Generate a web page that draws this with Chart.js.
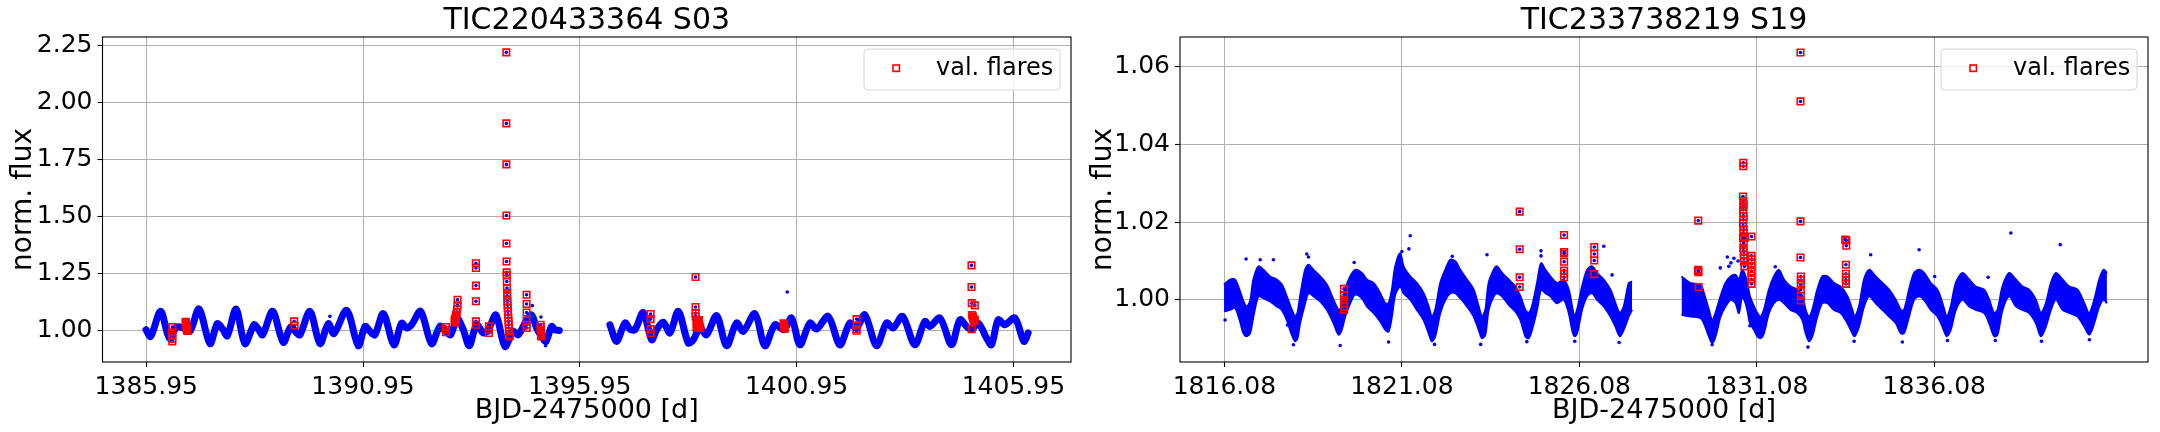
<!DOCTYPE html>
<html>
<head>
<meta charset="utf-8">
<script src="https://cdn.jsdelivr.net/npm/chart.js@4.4.1/dist/chart.umd.min.js"></script>
<style>
    body { margin: 0; background: #fff; width: 2160px; height: 432px; overflow: hidden; }
    .panel { position: absolute; top: 0; width: 1080px; height: 432px; }
</style>
</head>
<body>
<div class="panel" style="left:0"><canvas id="s03" width="1080" height="432"></canvas></div>
<div class="panel" style="left:1080px"><canvas id="s19" width="1080" height="432"></canvas></div>
<script>
// ---- TIC220433364, sector 3 ----
const s03XTicks = [1385.95, 1390.95, 1395.95, 1400.95, 1405.95];
const s03YTicks = [1.00, 1.25, 1.50, 1.75, 2.00, 2.25];

// light curve, first orbit (read along the middle of the band)
const s03TimeA = [1385.943, 1386.051, 1386.281, 1386.481, 1386.650, 1386.804, 1386.958, 1387.165, 1387.419, 1387.588,
    1387.711, 1387.819, 1388.019, 1388.226, 1388.434, 1388.534, 1388.634, 1388.864, 1389.110, 1389.279,
    1389.418, 1389.495, 1389.725, 1389.956, 1390.148, 1390.279, 1390.571, 1390.840, 1390.994, 1391.109,
    1391.224, 1391.417, 1391.663, 1391.839, 1391.955, 1392.070, 1392.278, 1392.531, 1392.723, 1392.862,
    1392.969, 1393.123, 1393.262, 1393.400, 1393.569, 1393.723, 1393.838, 1394.015, 1394.222, 1394.415,
    1394.530, 1394.722, 1394.838, 1394.953, 1395.068, 1395.168, 1395.299, 1395.376, 1395.476];
const s03FluxA = [1.001, 0.972, 1.082, 0.965, 1.013, 1.009, 0.994, 1.092, 0.940, 1.028,
    1.004, 0.975, 1.092, 0.940, 1.023, 1.004, 0.979, 1.082, 0.946, 1.013,
    0.987, 0.979, 1.082, 0.940, 1.028, 0.984, 1.086, 0.931, 1.016, 0.994,
    0.979, 1.072, 0.935, 1.030, 1.009, 1.023, 1.082, 0.940, 1.016, 0.994,
    0.979, 1.050, 1.001, 0.931, 1.023, 0.987, 1.001, 1.066, 0.928, 0.994,
    0.979, 1.043, 1.066, 1.009, 0.972, 0.950, 1.016, 1.001, 0.998];

// second orbit
const s03TimeB = [1396.645, 1396.798, 1396.991, 1397.106, 1397.221, 1397.413, 1397.606, 1397.721, 1397.875, 1398.028,
    1398.221, 1398.451, 1398.567, 1398.720, 1398.874, 1399.105, 1399.335, 1399.566, 1399.720, 1399.989,
    1400.219, 1400.450, 1400.658, 1400.834, 1401.027, 1401.257, 1401.411, 1401.680, 1401.949, 1402.179,
    1402.333, 1402.525, 1402.794, 1403.025, 1403.179, 1403.394, 1403.678, 1403.909, 1404.024, 1404.255,
    1404.524, 1404.716, 1404.870, 1404.985, 1405.139, 1405.331, 1405.446, 1405.600, 1405.754, 1405.985,
    1406.192, 1406.292];
const s03FluxB = [1.023, 0.950, 1.031, 1.004, 1.001, 1.077, 0.957, 1.001, 1.034, 0.987,
    1.082, 0.943, 0.957, 1.009, 0.979, 1.063, 0.931, 1.031, 0.994, 1.072,
    0.931, 1.023, 1.001, 1.053, 0.935, 1.031, 1.004, 1.060, 0.935, 1.031,
    1.009, 1.067, 0.931, 1.031, 1.009, 1.060, 0.935, 1.038, 1.016, 1.053,
    0.935, 1.045, 1.016, 1.001, 1.031, 0.965, 0.935, 1.045, 1.023, 1.053,
    0.950, 0.987];

// isolated points off the band
const s03OutTime = [1390.186, 1394.853, 1395.053, 1395.160, 1395.200, 1394.270, 1400.734];
const s03OutFlux = [1.060, 1.107, 1.057, 0.931, 0.945, 0.924, 1.167];

// validated flare points
const s03FlareTime = [
    1386.55, 1386.55, 1386.55, 1386.55, 1386.55,
    1386.860, 1386.862, 1386.865, 1386.868, 1386.871, 1386.874, 1386.877, 1386.880, 1386.885, 1386.890, 1386.895,
    1389.36, 1389.37,
    1392.86, 1392.86, 1392.86,
    1393.13, 1393.13, 1393.12, 1393.11, 1393.10, 1393.09, 1393.08, 1393.07, 1393.06, 1393.09,
    1393.554, 1393.554, 1393.554, 1393.554, 1393.554, 1393.554,
    1393.853, 1393.853, 1393.853,
    1394.255, 1394.255, 1394.256, 1394.257, 1394.258, 1394.260, 1394.262, 1394.264, 1394.266, 1394.270, 1394.273, 1394.276,
    1394.280, 1394.284, 1394.288, 1394.292, 1394.296, 1394.300, 1394.305, 1394.310, 1394.315, 1394.320, 1394.325, 1394.330,
    1394.722, 1394.722, 1394.722, 1394.722, 1394.722, 1394.722,
    1395.045, 1395.048, 1395.050, 1395.052, 1395.054, 1395.056, 1395.058,
    1397.583, 1397.583, 1397.583, 1397.583,
    1398.62, 1398.62, 1398.62, 1398.62,
    1398.64, 1398.65, 1398.66, 1398.67, 1398.68, 1398.69, 1398.70, 1398.71, 1398.72, 1398.73, 1398.64, 1398.66, 1398.68, 1398.70,
    1400.65, 1400.66, 1400.665, 1400.67, 1400.68,
    1402.333, 1402.333, 1402.333, 1402.333,
    1404.985, 1404.985, 1404.990, 1405.062, 1405.00, 1405.01, 1405.02, 1405.03, 1405.04, 1405.05, 1405.06, 1404.99];
const s03FlareFlux = [
    1.013, 0.990, 0.975, 0.962, 0.950,
    1.036, 1.032, 1.028, 1.024, 1.020, 1.016, 1.012, 1.008, 1.004, 1.000, 0.996,
    1.038, 1.020,
    1.013, 1.001, 0.990,
    1.133, 1.108, 1.092, 1.077, 1.068, 1.060, 1.053, 1.046, 1.040, 1.033,
    1.293, 1.272, 1.195, 1.126, 1.038, 1.023,
    1.016, 1.001, 0.987,
    2.219, 1.907, 1.727, 1.503, 1.380, 1.301, 1.253, 1.240, 1.213, 1.184, 1.162, 1.148,
    1.126, 1.111, 1.097, 1.082, 1.067, 1.053, 1.038, 1.023, 1.009, 0.994, 0.979, 0.972,
    1.155, 1.114, 1.077, 1.042, 1.023, 1.009,
    1.023, 1.013, 1.001, 0.994, 0.986, 0.979, 0.972,
    1.070, 1.048, 1.004, 0.987,
    1.233, 1.101, 1.074, 1.060,
    1.044, 1.040, 1.036, 1.032, 1.028, 1.024, 1.020, 1.016, 1.012, 1.008, 1.010, 1.014, 1.040, 1.044,
    1.029, 1.022, 1.016, 1.010, 1.006,
    1.048, 1.019, 1.004, 0.997,
    1.284, 1.189, 1.118, 1.108, 1.066, 1.060, 1.054, 1.048, 1.043, 1.039, 1.045, 1.004];

// ---- TIC233738219, sector 19 ----
const s19XTicks = [1816.08, 1821.08, 1826.08, 1831.08, 1836.08];
const s19YTicks = [1.00, 1.02, 1.04, 1.06];

// band of the light curve: upper and lower edge, first orbit
const s19TimeA = [1816.071, 1816.240, 1816.381, 1816.522, 1816.616, 1816.710, 1816.804, 1816.898, 1817.039, 1817.180,
    1817.368, 1817.556, 1817.697, 1817.838, 1817.979, 1818.073, 1818.139, 1818.214, 1818.355, 1818.449,
    1818.590, 1818.778, 1818.966, 1819.154, 1819.295, 1819.389, 1819.483, 1819.624, 1819.765, 1819.953,
    1820.094, 1820.282, 1820.470, 1820.611, 1820.705, 1820.799, 1820.893, 1821.034, 1821.128, 1821.316,
    1821.504, 1821.692, 1821.833, 1821.927, 1822.021, 1822.162, 1822.303,
    1822.444, 1822.585, 1822.726, 1822.914, 1823.102, 1823.243, 1823.337, 1823.431, 1823.525, 1823.666,
    1823.760, 1823.901, 1824.089, 1824.277, 1824.418, 1824.559, 1824.653, 1824.747, 1824.888, 1825.001,
    1825.123, 1825.264, 1825.452, 1825.640, 1825.781, 1825.875, 1825.941, 1826.016, 1826.157, 1826.298,
    1826.439, 1826.580, 1826.768, 1826.956, 1827.097, 1827.219, 1827.332, 1827.473, 1827.567];
const s19UpperA = [1.0039, 1.0052, 1.0052, 1.0021, 0.9996, 0.9983, 0.9996, 1.0052, 1.0086, 1.0077,
    1.0060, 1.0052, 1.0039, 1.0009, 0.9974, 0.9957, 0.9966, 1.0009, 1.0077, 1.0090,
    1.0077, 1.0060, 1.0039, 1.0000, 0.9974, 0.9983, 1.0026, 1.0060, 1.0077, 1.0069,
    1.0052, 1.0043, 1.0017, 0.9991, 0.9991, 1.0026, 1.0086, 1.0120, 1.0086, 1.0060,
    1.0043, 1.0017, 0.9983, 0.9957, 0.9974, 1.0043, 1.0077,
    1.0103, 1.0099, 1.0077, 1.0052, 1.0026, 0.9983, 0.9957, 0.9974, 1.0043, 1.0077,
    1.0086, 1.0069, 1.0052, 1.0034, 1.0009, 0.9974, 0.9966, 0.9983, 1.0043, 1.0094,
    1.0077, 1.0060, 1.0043, 1.0052, 1.0026, 0.9983, 0.9957, 0.9974, 1.0034, 1.0077,
    1.0086, 1.0069, 1.0052, 1.0026, 0.9991, 0.9966, 0.9983, 1.0043, 1.0047];
const s19LowerA = [0.9970, 0.9974, 0.9979, 0.9944, 0.9914, 0.9906, 0.9914, 0.9957, 1.0009, 1.0004,
    0.9996, 0.9983, 0.9974, 0.9948, 0.9910, 0.9893, 0.9901, 0.9940, 0.9991, 1.0017,
    1.0009, 0.9996, 0.9974, 0.9940, 0.9910, 0.9923, 0.9957, 0.9991, 1.0013, 1.0004,
    0.9983, 0.9966, 0.9944, 0.9923, 0.9918, 0.9957, 1.0013, 1.0034, 1.0017, 1.0000,
    0.9974, 0.9948, 0.9914, 0.9893, 0.9906, 0.9966, 1.0000,
    1.0017, 1.0017, 1.0004, 0.9983, 0.9957, 0.9923, 0.9901, 0.9910, 0.9974, 1.0009,
    1.0017, 1.0009, 0.9987, 0.9970, 0.9948, 0.9906, 0.9901, 0.9923, 0.9974, 1.0026,
    1.0017, 1.0009, 0.9991, 1.0000, 0.9966, 0.9923, 0.9906, 0.9914, 0.9974, 1.0009,
    1.0017, 1.0000, 0.9983, 0.9957, 0.9931, 0.9906, 0.9923, 0.9957, 0.9974];

// second orbit
const s19TimeB = [1828.958, 1829.212, 1829.494, 1829.588, 1829.729, 1829.823, 1829.917, 1830.058, 1830.199, 1830.340,
    1830.481, 1830.575, 1830.669, 1830.763, 1830.829, 1830.885, 1830.998, 1831.092, 1831.186, 1831.280,
    1831.421, 1831.562, 1831.703, 1831.844, 1832.032, 1832.220, 1832.361, 1832.455, 1832.549, 1832.643,
    1832.784, 1832.925, 1833.066, 1833.254, 1833.442, 1833.630, 1833.771, 1833.837, 1833.959, 1834.100,
    1834.241, 1834.429, 1834.617, 1834.805, 1834.993, 1835.134, 1835.228, 1835.369, 1835.510, 1835.651,
    1835.792, 1835.980, 1836.168, 1836.309, 1836.431, 1836.544, 1836.685, 1836.873, 1837.061, 1837.249,
    1837.484, 1837.625, 1837.766, 1837.860, 1838.001, 1838.189, 1838.377, 1838.565, 1838.753, 1838.941,
    1839.082, 1839.223, 1839.364, 1839.505, 1839.693, 1839.881, 1840.116, 1840.304, 1840.445, 1840.586,
    1840.727, 1840.849, 1840.943];
const s19UpperB = [1.0060, 1.0043, 1.0039, 1.0017, 0.9974, 0.9948, 0.9966, 1.0009, 1.0043, 1.0060,
    1.0064, 1.0052, 1.0077, 1.0060, 1.0034, 1.0009, 0.9983, 0.9966, 0.9957, 0.9974,
    1.0026, 1.0060, 1.0077, 1.0052, 1.0034, 1.0026, 1.0009, 0.9974, 0.9957, 0.9974,
    1.0026, 1.0060, 1.0060, 1.0043, 1.0034, 1.0009, 0.9974, 0.9957, 0.9983, 1.0052,
    1.0077, 1.0060, 1.0043, 1.0026, 1.0000, 0.9974, 0.9974, 1.0026, 1.0069, 1.0077,
    1.0069, 1.0043, 1.0026, 0.9991, 0.9957, 0.9983, 1.0043, 1.0069, 1.0052, 1.0034,
    1.0026, 1.0000, 0.9966, 0.9974, 1.0034, 1.0069, 1.0052, 1.0034, 1.0026, 1.0000,
    0.9966, 0.9991, 1.0043, 1.0069, 1.0052, 1.0034, 1.0026, 0.9991, 0.9966, 1.0000,
    1.0052, 1.0077, 1.0069];
const s19LowerB = [0.9961, 0.9957, 0.9953, 0.9940, 0.9906, 0.9888, 0.9906, 0.9957, 0.9983, 1.0000,
    0.9991, 0.9966, 1.0009, 0.9991, 0.9966, 0.9940, 0.9923, 0.9906, 0.9901, 0.9914,
    0.9966, 0.9991, 1.0000, 0.9991, 0.9974, 0.9966, 0.9948, 0.9914, 0.9893, 0.9906,
    0.9957, 0.9991, 0.9991, 0.9974, 0.9966, 0.9940, 0.9914, 0.9906, 0.9931, 0.9983,
    1.0009, 0.9991, 0.9974, 0.9957, 0.9940, 0.9914, 0.9914, 0.9957, 1.0000, 1.0009,
    1.0000, 0.9974, 0.9957, 0.9931, 0.9906, 0.9923, 0.9974, 1.0000, 0.9983, 0.9974,
    0.9966, 0.9940, 0.9906, 0.9910, 0.9974, 1.0009, 0.9983, 0.9974, 0.9966, 0.9940,
    0.9906, 0.9931, 0.9974, 1.0000, 0.9974, 0.9966, 0.9957, 0.9931, 0.9910, 0.9940,
    0.9983, 1.0000, 0.9991];

// stray points outside the band
const s19OutTime = [1816.691, 1817.090, 1817.462, 1818.402, 1818.450, 1819.737, 1819.342, 1818.026, 1820.705, 1821.316,
    1821.278, 1821.080, 1816.100, 1817.860, 1822.000, 1823.478, 1825.000, 1825.000, 1826.768, 1827.003,
    1823.300, 1824.600, 1825.950, 1827.200, 1822.500, 1830.434, 1830.290, 1834.288, 1835.651, 1830.885,
    1832.520, 1835.180, 1833.820, 1829.820, 1830.050, 1831.600, 1830.250, 1830.350, 1830.550, 1838.236,
    1839.627, 1836.090, 1837.597, 1836.450, 1837.800, 1839.100, 1840.450];
const s19OutFlux = [1.0105, 1.0103, 1.0103, 1.0118, 1.0110, 1.0096, 0.9882, 0.9884, 0.9891, 1.0165,
    1.0131, 1.0124, 0.9948, 0.9935, 0.9885, 1.0116, 1.0126, 1.0113, 1.0138, 1.0064,
    0.9885, 0.9892, 0.9893, 0.9890, 1.0112, 1.0107, 1.0086, 1.0116, 1.0129, 0.9933,
    0.9878, 0.9891, 0.9893, 0.9884, 1.0082, 1.0085, 1.0110, 1.0095, 1.0100, 1.0172,
    1.0142, 1.0060, 1.0058, 0.9895, 0.9895, 0.9893, 0.9897];

const s19FlareTime = [
    1819.45, 1819.45, 1819.45, 1819.45, 1819.45, 1819.45,
    1824.40, 1824.40, 1824.40, 1824.40,
    1825.65, 1825.65, 1825.65, 1825.65, 1825.65, 1825.65, 1825.65,
    1826.50, 1826.50, 1826.50, 1826.50,
    1829.43, 1829.43, 1829.425, 1829.435, 1829.44,
    1830.70, 1830.70, 1830.69, 1830.70, 1830.71, 1830.70, 1830.69, 1830.70, 1830.71, 1830.70, 1830.69, 1830.70,
    1830.71, 1830.70, 1830.69, 1830.74, 1830.71, 1830.70, 1830.71, 1830.72, 1830.71, 1830.72, 1830.73,
    1830.93, 1830.93, 1830.93, 1830.93, 1830.93, 1830.93, 1830.93, 1830.93, 1830.93,
    1832.31, 1832.31, 1832.31, 1832.31, 1832.32, 1832.32, 1832.32, 1832.32, 1832.32, 1832.32,
    1833.57, 1833.60, 1833.60, 1833.59, 1833.59, 1833.59, 1833.59, 1833.59];
const s19FlareFlux = [
    1.0028, 1.0012, 1.0000, 0.9990, 0.9982, 0.9974,
    1.0227, 1.0130, 1.0058, 1.0033,
    1.0167, 1.0123, 1.0119, 1.0098, 1.0075, 1.0067, 1.0058,
    1.0136, 1.0118, 1.0101, 1.0066,
    1.0204, 1.0077, 1.0074, 1.0071, 1.0033,
    1.0353, 1.0344, 1.0266, 1.0254, 1.0245, 1.0240, 1.0232, 1.0223, 1.0215, 1.0206, 1.0197, 1.0189,
    1.0180, 1.0172, 1.0159, 1.0159, 1.0146, 1.0133, 1.0125, 1.0116, 1.0107, 1.0098, 1.0086,
    1.0163, 1.0113, 1.0104, 1.0094, 1.0084, 1.0073, 1.0062, 1.0052, 1.0041,
    1.0637, 1.0511, 1.0202, 1.0109, 1.0060, 1.0051, 1.0039, 1.0026, 1.0010, 0.9998,
    1.0155, 1.0153, 1.0139, 1.0090, 1.0067, 1.0058, 1.0050, 1.0041];

const BLUE = "#0000ff";
const RED = "#ff0000";
const FONT = "'DejaVu Sans', sans-serif";

Chart.defaults.font.family = FONT;
Chart.defaults.color = "#000";

const pts = (xs, ys) => xs.map((x, i) => ({ x, y: ys[i] }));

// matplotlib-style frame, title and legend, drawn on the chart area
const frame = {
    id: "frame",
    afterDatasetsDraw(chart) {
        const { ctx, chartArea: a } = chart;
        ctx.save();
        ctx.strokeStyle = "#000";
        ctx.lineWidth = 1.1;
        ctx.strokeRect(a.left, a.top, a.right - a.left, a.bottom - a.top);
        ctx.restore();
    },
    afterDraw(chart, args, opts) {
        const { ctx, chartArea: a } = chart;
        ctx.save();
        ctx.fillStyle = "#000";
        ctx.font = `30px ${FONT}`;
        ctx.textAlign = "center";
        ctx.textBaseline = "middle";
        ctx.fillText(opts.title, (a.left + a.right) / 2, 21);

        const w = 196;
        const h = 41;
        const x = a.right - 11 - w;
        const y = a.top + 12;
        ctx.beginPath();
        ctx.roundRect(x, y, w, h, 4);
        ctx.fillStyle = "rgba(255,255,255,0.8)";
        ctx.fill();
        ctx.strokeStyle = "#d6d6d6";
        ctx.lineWidth = 1;
        ctx.stroke();
        ctx.strokeStyle = RED;
        ctx.lineWidth = 1.6;
        ctx.strokeRect(x + 29, y + 16, 6.4, 6.4);
        ctx.fillStyle = "#000";
        ctx.font = `24px ${FONT}`;
        ctx.textAlign = "left";
        ctx.fillText("val. flares", x + 72, y + 20);
        ctx.restore();
    },
};

function axes(xRange, yRange, xTicks, yTicks, yWidth) {
    const grid = { color: "#b0b0b0", lineWidth: 1, tickLength: 5, tickColor: "#000", tickWidth: 1.1 };
    const tickFont = { size: 25 };
    return {
        x: {
            type: "linear",
            min: xRange[0],
            max: xRange[1],
            grid,
            border: { display: false },
            afterBuildTicks: (s) => { s.ticks = xTicks.map((value) => ({ value })); },
            afterFit: (s) => { s.height = 70; },
            ticks: { font: tickFont, padding: 5, autoSkip: false, maxRotation: 0, callback: (v) => v.toFixed(2) },
            title: { display: true, text: "BJD-2475000 [d]", font: { size: 27 }, padding: { top: 0, bottom: 5 } },
        },
        y: {
            type: "linear",
            min: yRange[0],
            max: yRange[1],
            grid,
            border: { display: false },
            afterBuildTicks: (s) => { s.ticks = yTicks.map((value) => ({ value })); },
            afterFit: (s) => { s.width = yWidth; },
            ticks: { font: tickFont, padding: 5, autoSkip: false, callback: (v) => v.toFixed(2) },
            title: { display: true, text: "norm. flux", font: { size: 28 }, padding: { top: 7, bottom: 0 } },
        },
    };
}

function baseOptions(title, scales, padRight) {
    return {
        responsive: false,
        animation: false,
        events: [],
        layout: { padding: { left: 0, right: padRight, top: 37, bottom: 0 } },
        scales,
        plugins: {
            legend: { display: false },
            tooltip: { enabled: false },
            frame: { title },
        },
    };
}

function flareSets(times, fluxes) {
    return [
        {
            data: pts(times, fluxes),
            showLine: false,
            pointStyle: "rect",
            pointRadius: 4.6,
            pointBorderWidth: 1.6,
            pointBorderColor: RED,
            pointBackgroundColor: "rgba(0,0,0,0)",
            order: 0,
        },
        {
            data: pts(times, fluxes),
            showLine: false,
            pointRadius: 1.8,
            pointBorderWidth: 0,
            pointBackgroundColor: BLUE,
            order: 1,
        },
    ];
}

function strays(times, fluxes) {
    return {
        data: pts(times, fluxes),
        showLine: false,
        pointRadius: 1.8,
        pointBorderWidth: 0,
        pointBackgroundColor: BLUE,
        order: 2,
    };
}

function thickCurve(times, fluxes) {
    return {
        data: pts(times, fluxes),
        borderColor: BLUE,
        borderWidth: 7,
        tension: 0.3,
        borderJoinStyle: "round",
        borderCapStyle: "round",
        pointRadius: 0,
        fill: false,
        order: 3,
    };
}

// the noisy S19 band: solid fill between the upper and lower edge
function band(times, upper, lower) {
    const edge = { borderColor: BLUE, borderWidth: 2, tension: 0.3, pointRadius: 0 };
    return [
        { ...edge, data: pts(times, upper), backgroundColor: BLUE, fill: "+1", order: 3 },
        { ...edge, data: pts(times, lower), fill: false, order: 4 },
    ];
}

new Chart(document.getElementById("s03"), {
    type: "line",
    data: {
        datasets: [
            ...flareSets(s03FlareTime, s03FlareFlux),
            strays(s03OutTime, s03OutFlux),
            thickCurve(s03TimeA, s03FluxA),
            thickCurve(s03TimeB, s03FluxB),
        ],
    },
    options: baseOptions("TIC220433364 S03", axes([1384.94, 1407.28], [0.8596, 2.2864], s03XTicks, s03YTicks, 102.5), 9),
    plugins: [frame],
});

new Chart(document.getElementById("s19"), {
    type: "line",
    data: {
        datasets: [
            ...flareSets(s19FlareTime, s19FlareFlux),
            strays(s19OutTime, s19OutFlux),
            ...band(s19TimeA, s19UpperA, s19LowerA),
            ...band(s19TimeB, s19UpperB, s19LowerB),
        ],
    },
    options: baseOptions("TIC233738219 S19", axes([1814.83, 1842.10], [0.98396, 1.0677], s19XTicks, s19YTicks, 100), 12),
    plugins: [frame],
});
</script>
</body>
</html>
